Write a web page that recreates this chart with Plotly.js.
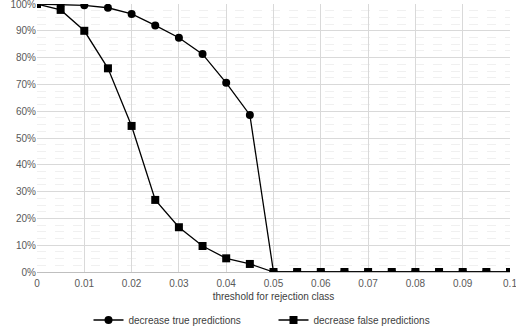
<!DOCTYPE html>
<html>
<head>
<meta charset="utf-8">
<script src="https://cdn.plot.ly/plotly-3.0.1.min.js"></script>
<style>
  html, body { margin: 0; padding: 0; background: #fff; }
  #chart { width: 516px; height: 326px; }
</style>
</head>
<body>
<div id="chart"></div>
<script>
// thresholds for the rejection class
const thresholds = [0, 0.005, 0.01, 0.015, 0.02, 0.025, 0.03, 0.035, 0.04, 0.045, 0.05,
  0.055, 0.06, 0.065, 0.07, 0.075, 0.08, 0.085, 0.09, 0.095, 0.1];
const trueDecrease = [1.0, 0.998, 0.995, 0.986, 0.963, 0.92, 0.874, 0.813, 0.706, 0.586, 0,
  0, 0, 0, 0, 0, 0, 0, 0, 0, 0];
const falseDecrease = [1.0, 0.978, 0.90, 0.76, 0.545, 0.269, 0.167, 0.097, 0.051, 0.03, 0,
  0, 0, 0, 0, 0, 0, 0, 0, 0, 0];
const xTicks = [0, 0.01, 0.02, 0.03, 0.04, 0.05, 0.06, 0.07, 0.08, 0.09, 0.1];
const xTickText = ["0", "0.01", "0.02", "0.03", "0.04", "0.05", "0.06", "0.07", "0.08", "0.09", "0.1"];
const yTicks = [0, 0.1, 0.2, 0.3, 0.4, 0.5, 0.6, 0.7, 0.8, 0.9, 1.0];
const yTickText = ["0%", "10%", "20%", "30%", "40%", "50%", "60%", "70%", "80%", "90%", "100%"];

const data = [
  {
    x: thresholds,
    y: trueDecrease,
    name: "decrease true predictions",
    type: "scatter",
    mode: "lines+markers",
    line: { color: "#000", width: 1.3 },
    marker: { symbol: "circle", size: 8, color: "#000" },
  },
  {
    x: thresholds,
    y: falseDecrease,
    name: "decrease false predictions",
    type: "scatter",
    mode: "lines+markers",
    line: { color: "#000", width: 1.3 },
    marker: { symbol: "square", size: 8, color: "#000" },
  },
];

const layout = {
  width: 516,
  height: 326,
  margin: { l: 37, r: 6, t: 4, b: 54, autoexpand: false },
  paper_bgcolor: "#fff",
  plot_bgcolor: "#fff",
  font: { family: "Liberation Sans, Arial, sans-serif", size: 10, color: "#595959" },
  showlegend: true,
  legend: {
    orientation: "h",
    x: 0.5,
    xanchor: "center",
    y: -0.125,
    yanchor: "top",
    entrywidth: 140,
    font: { size: 10, color: "#404040" },
  },
  xaxis: {
    range: [0, 0.1],
    tickvals: xTicks,
    ticktext: xTickText,
    ticklabeloverflow: "allow",
    ticklabelstandoff: 2,
    showgrid: true,
    gridcolor: "#d9d9d9",
    gridwidth: 1,
    zeroline: false,
    showline: true,
    linecolor: "#bfbfbf",
    ticks: "",
    title: { text: "threshold for rejection class", font: { size: 10, color: "#404040" }, standoff: 4 },
  },
  yaxis: {
    range: [0, 1],
    tickvals: yTicks,
    ticktext: yTickText,
    ticklabeloverflow: "allow",
    showgrid: true,
    gridcolor: "#d9d9d9",
    gridwidth: 1,
    zeroline: false,
    showline: false,
    ticks: "",
    minor: { dtick: 0.025, showgrid: true, gridcolor: "#f0f0f0", griddash: "dash" },
  },
};

Plotly.newPlot("chart", data, layout, { displayModeBar: false, staticPlot: true });
</script>
</body>
</html>
